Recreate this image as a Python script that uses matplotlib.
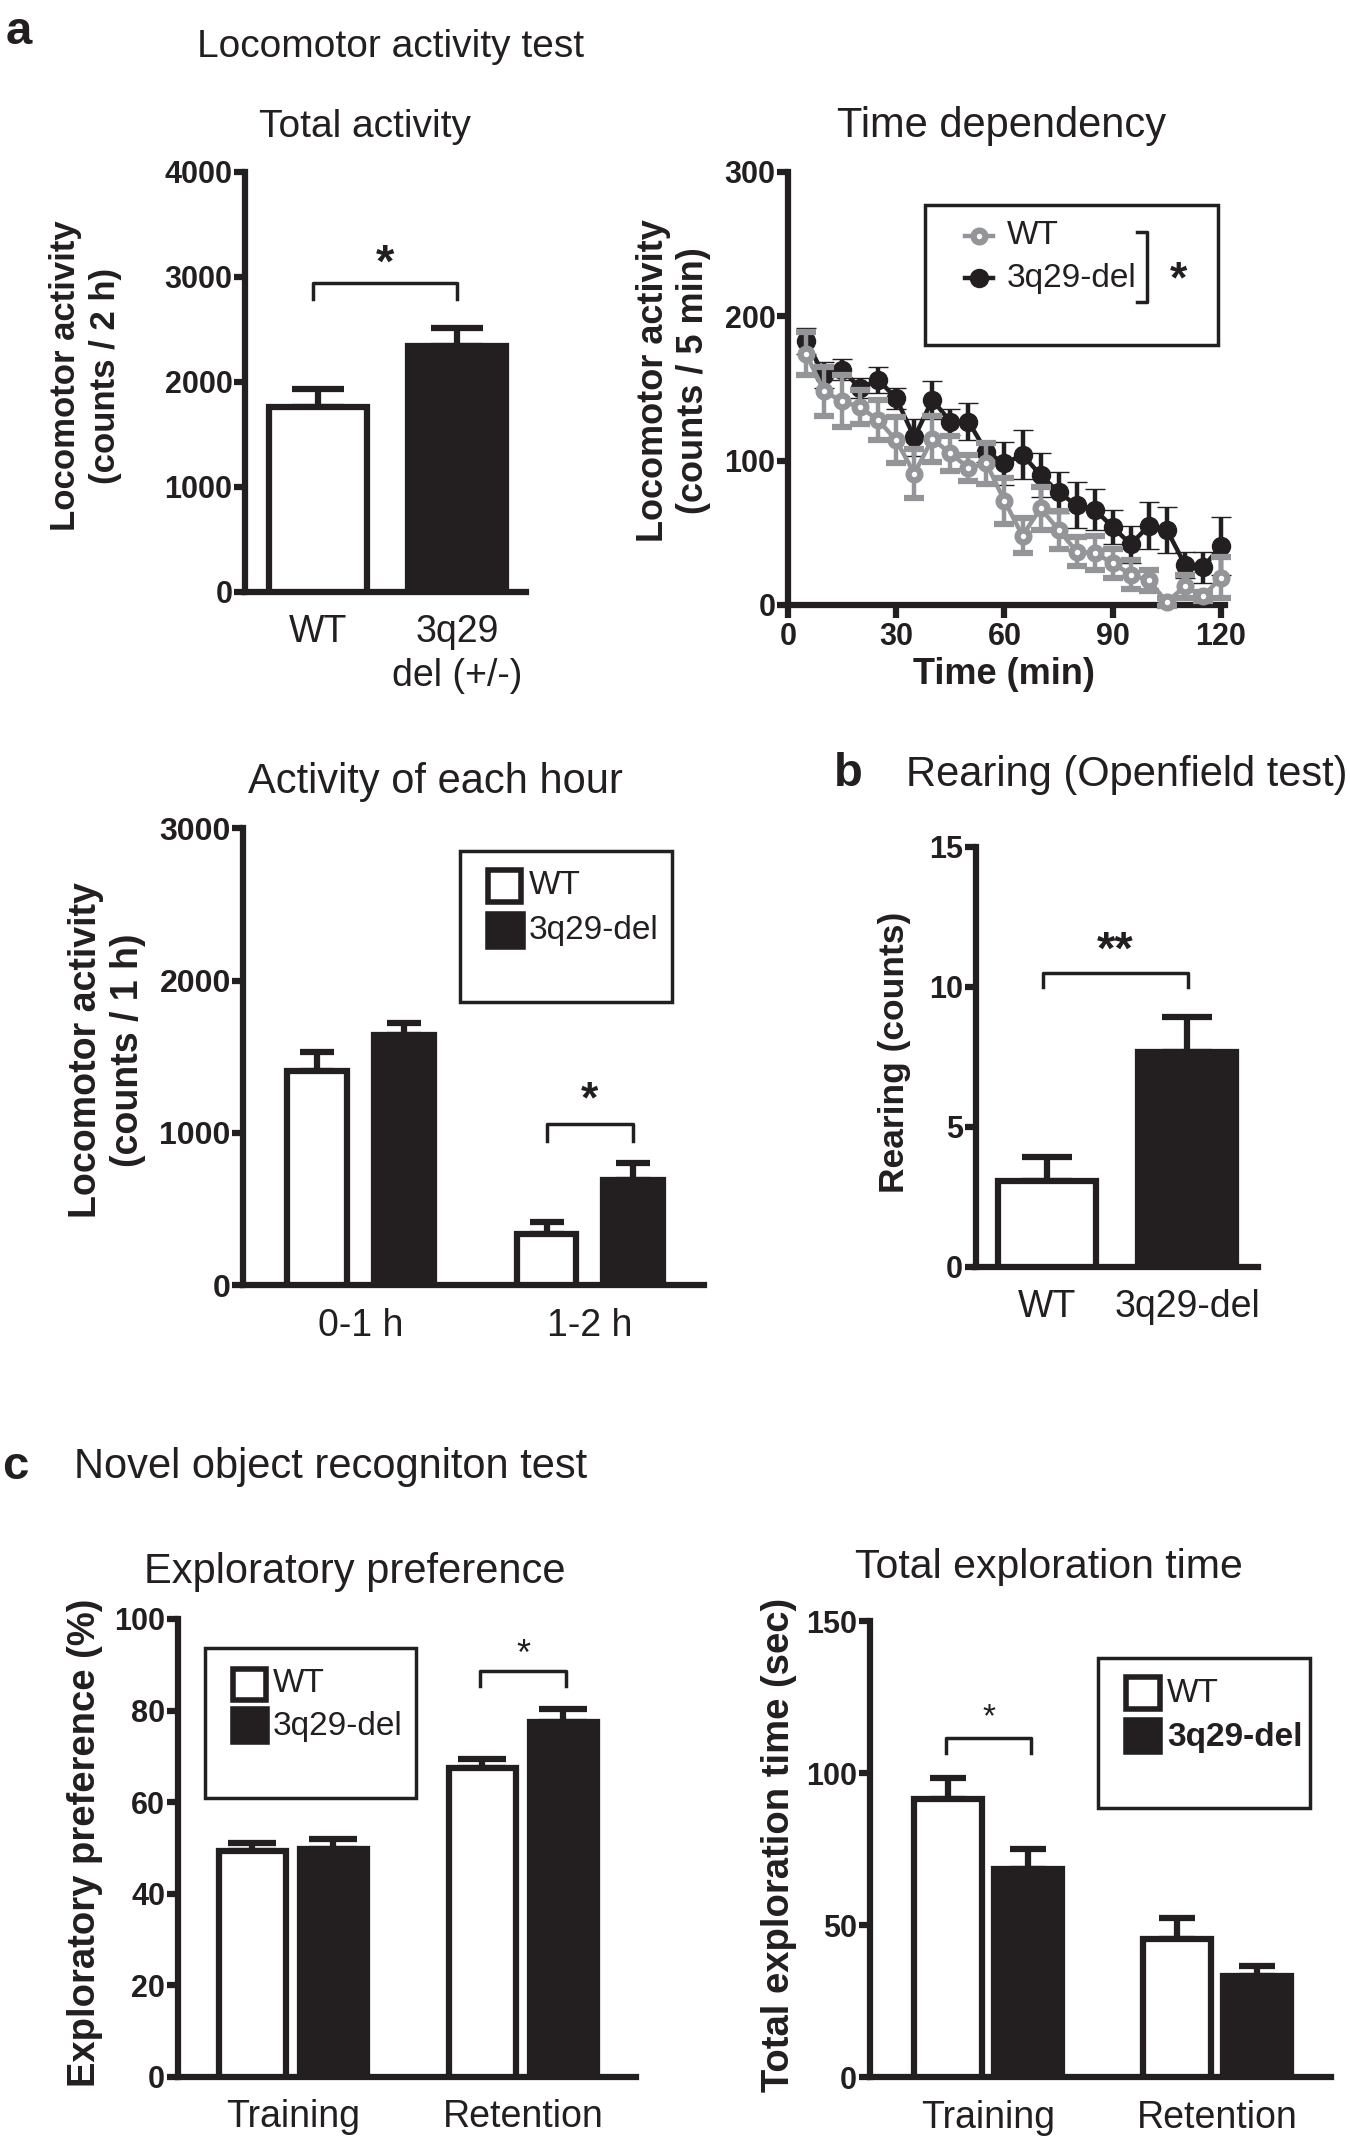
import matplotlib
matplotlib.use('Agg')
import matplotlib.pyplot as plt
import numpy as np
from matplotlib.patches import Rectangle
from matplotlib.lines import Line2D

plt.rcParams.update({
    'font.family': ['Liberation Sans', 'DejaVu Sans'],
    'axes.linewidth': 4.5,
    'xtick.major.width': 4.5,
    'ytick.major.width': 4.5,
})

INK = '#231f20'
GREY = '#939598'
LW = 4.5
W, H = 1350, 2142

# ---------------- data ----------------
# a) total activity (counts / 2 h)
total_groups = ['WT', '3q29\ndel (+/-)']
total_mean = [1757, 2340]
total_sem = [170, 170]

# a) time dependency (counts / 5 min)
time_min = [5, 10, 15, 20, 25, 30, 35, 40, 45, 50, 55, 60,
            65, 70, 75, 80, 85, 90, 95, 100, 105, 110, 115, 120]
wt_time = [174, 148, 141, 137, 128, 114, 91, 115, 105, 95, 98, 72,
           48, 67, 52, 37, 36, 29, 21, 17, 2, 13, 6, 19]
wt_time_sem = [15, 17, 18, 12, 14, 16, 17, 16, 12, 9, 14, 16,
               12, 15, 13, 10, 12, 10, 10, 7, 3, 8, 3, 14]
del_time = [183, 159, 163, 150, 156, 143, 116, 142, 127, 127, 106, 98,
            104, 90, 78, 69, 66, 54, 42, 55, 52, 28, 26, 41]
del_time_sem = [9, 9, 7, 7, 9, 7, 13, 13, 9, 13, 7, 15,
                17, 15, 14, 16, 14, 12, 13, 16, 16, 9, 11, 20]

# a) activity of each hour (counts / 1 h)
hour_labels = ['0-1 h', '1-2 h']
hour_wt = [1409, 340]
hour_wt_sem = [120, 73]
hour_del = [1644, 692]
hour_del_sem = [76, 114]

# b) rearing
rear_groups = ['WT', '3q29-del']
rear_mean = [3.06, 7.66]
rear_sem = [0.87, 1.25]

# c) novel object recognition
phases = ['Training', 'Retention']
pref_wt = [49.3, 67.4]
pref_wt_sem = [1.8, 2.1]
pref_del = [49.8, 77.5]
pref_del_sem = [2.2, 2.9]

expl_wt = [91.7, 45.4]
expl_wt_sem = [6.7, 7.0]
expl_del = [68.7, 33.4]
expl_del_sem = [6.3, 3.2]


fig = plt.figure(figsize=(W / 100, H / 100), dpi=100)


def fx(x):
    return x / W


def fy(y):
    return 1 - y / H


def add_ax(left, top, right, bottom):
    return fig.add_axes([fx(left), fy(bottom), (right - left) / W, (bottom - top) / H])


def ftext(x, y, s, size, weight='normal', rot=0, ha='center', **kw):
    fig.text(fx(x), fy(y), s, fontsize=size, fontweight=weight, rotation=rot,
             ha=ha, va='center', color=INK, **kw)


def style(ax, ymax, yticks, ysize=22):
    for s in ['top', 'right']:
        ax.spines[s].set_visible(False)
    for s in ['left', 'bottom']:
        ax.spines[s].set_color(INK)
    ax.set_ylim(0, ymax)
    ax.set_yticks(yticks)
    ax.tick_params(axis='y', direction='out', length=8, width=LW, pad=1,
                   labelsize=ysize, colors=INK)
    for t in ax.get_yticklabels():
        t.set_fontweight('bold')


def bars(ax, xs, means, sems, face, width, cap):
    ax.bar(xs, means, width, color=face, edgecolor=INK, linewidth=LW, zorder=3)
    ax.errorbar(xs, means, yerr=[np.zeros(len(sems)), sems], fmt='none',
                ecolor=INK, elinewidth=LW, capsize=cap, capthick=LW, zorder=2)


def bracket(ax, x0, x1, ytop, yleg, ystar, star, size, weight='bold'):
    ax.plot([x0, x0, x1, x1], [yleg, ytop, ytop, yleg], color=INK, lw=2.5,
            clip_on=False, zorder=4)
    ax.text((x0 + x1) / 2, ystar, star, ha='center', va='center',
            fontsize=size, fontweight=weight, color=INK)


def cat_labels(ax, xs, labels, pad=16):
    ax.set_xticks(xs, labels, fontsize=27, color=INK)
    ax.tick_params(axis='x', length=0, pad=pad)


def legend_box(x0, y0, x1, y1, items, size=24):
    fig.add_artist(Rectangle((fx(x0), fy(y1)), (x1 - x0) / W, (y1 - y0) / H,
                             transform=fig.transFigure, fill=False, ec=INK, lw=2.5))
    for (sx0, sy0, sx1, sy1, face, lab, tx, ty, wt) in items:
        fig.add_artist(Rectangle((fx(sx0), fy(sy1)), (sx1 - sx0) / W, (sy1 - sy0) / H,
                                 transform=fig.transFigure, fc=face, ec=INK, lw=4))
        ftext(tx, ty, lab, size, weight=wt, ha='left')


# ---------------- panel a: total activity ----------------
ftext(6, 32, 'a', 34, 'bold', ha='left')
ftext(391, 47, 'Locomotor activity test', 28)
ftext(365, 127, 'Total activity', 28)
ax = add_ax(245, 171.9, 525.6, 591.5)
style(ax, 4000, [0, 1000, 2000, 3000, 4000])
ax.set_xlim(-0.525, 1.494)
bars(ax, [0], total_mean[:1], total_sem[:1], 'white', 0.7, 18.5)
bars(ax, [1], total_mean[1:], total_sem[1:], INK, 0.7, 18.5)
cat_labels(ax, [0, 1], total_groups)
ax.get_xticklabels()[1].set_linespacing(1.3)
bracket(ax, -0.035, 1.0, 2937, 2789, 3116, '*', 34)
ftext(85.6, 376, 'Locomotor activity\n(counts / 2 h)', 25, 'bold', rot=90,
      multialignment='center', linespacing=1.25)

# ---------------- panel a: time dependency ----------------
ftext(1002, 126, 'Time dependency', 30)
ax = add_ax(788, 171.7, 1224.6, 605)
style(ax, 300, [0, 100, 200, 300])
ax.set_xlim(0, 121)
ax.set_xticks([0, 30, 60, 90, 120])
ax.tick_params(axis='x', direction='out', length=9.5, width=LW, pad=3,
               labelsize=22, colors=INK)
for t in ax.get_xticklabels():
    t.set_fontweight('bold')
ax.errorbar(time_min, del_time, yerr=del_time_sem, color=INK, lw=3.2,
            marker='o', ms=13, mfc=INK, mec=INK, mew=1, elinewidth=3.2,
            capsize=7, capthick=3.2, zorder=3, clip_on=False)
ax.errorbar(time_min, wt_time, yerr=wt_time_sem, color=GREY, lw=3.2,
            marker='o', ms=8.5, mfc='white', mec=GREY, mew=4.5, elinewidth=3.2,
            capsize=7, capthick=3.2, zorder=4, clip_on=False)
ftext(1004, 675, 'Time (min)', 26, 'bold')
ftext(673.6, 381, 'Locomotor activity\n(counts / 5 min)', 26, 'bold', rot=90,
      multialignment='center', linespacing=1.2)
# legend
fig.add_artist(Rectangle((fx(925), fy(345)), (1218.3 - 925) / W, (345 - 205) / H,
                         transform=fig.transFigure, fill=False, ec=INK, lw=2.5))
for yy, col, face, ms, mew, lab in [(236, GREY, 'white', 8.5, 4.5, 'WT'),
                                    (278, INK, INK, 13, 1, '3q29-del')]:
    fig.add_artist(Line2D([fx(965), fx(993)], [fy(yy), fy(yy)], transform=fig.transFigure,
                          color=col, lw=3.2))
    fig.add_artist(Line2D([fx(979)], [fy(yy)], transform=fig.transFigure, marker='o',
                          ms=ms, mfc=face, mec=col, mew=mew, color=col))
    ftext(1006.7, yy, lab, 24, ha='left')
fig.add_artist(Line2D([fx(1137), fx(1147), fx(1147), fx(1137)],
                      [fy(232), fy(232), fy(302), fy(302)],
                      transform=fig.transFigure, color=INK, lw=2.5))
ftext(1178, 281, '*', 32, 'bold')

# ---------------- panel a: activity of each hour ----------------
ftext(435, 782, 'Activity of each hour', 30)
ax = add_ax(243.3, 828.4, 703.7, 1285.3)
style(ax, 3000, [0, 1000, 2000, 3000], ysize=23)
ax.set_xlim(-0.511, 1.496)
x = np.arange(len(hour_labels))
bars(ax, x - 0.189, hour_wt, hour_wt_sem, 'white', 0.26, 12)
bars(ax, x + 0.189, hour_del, hour_del_sem, INK, 0.26, 12)
cat_labels(ax, x, hour_labels)
bracket(ax, 1 - 0.189, 1 + 0.189, 1056, 947, 1213, '*', 32)
ftext(107, 1050, 'Locomotor activity\n(counts / 1 h)', 27, 'bold', rot=90,
      multialignment='center', linespacing=1.25)
legend_box(460, 850.6, 672, 1002.3, [
    (488, 870, 521, 902.4, 'white', 'WT', 529, 885.8, 'normal'),
    (488, 913.5, 523, 946.8, INK, '3q29-del', 529, 930.2, 'normal'),
])

# ---------------- panel b: rearing ----------------
ftext(834, 774, 'b', 34, 'bold', ha='left')
ftext(906, 775, 'Rearing (Openfield test)', 30, ha='left')
ax = add_ax(975.5, 847, 1257.8, 1266.8)
style(ax, 15, [0, 5, 10, 15])
ax.set_xlim(-0.51, 1.506)
bars(ax, [0], rear_mean[:1], rear_sem[:1], 'white', 0.7, 18)
bars(ax, [1], rear_mean[1:], rear_sem[1:], INK, 0.7, 18)
cat_labels(ax, [0, 1], rear_groups)
bracket(ax, -0.03, 1.01, 10.5, 9.98, 11.26, '**', 34)
ftext(894.4, 1052, 'Rearing (counts)', 25.5, 'bold', rot=90)

# ---------------- panel c: exploratory preference ----------------
ftext(2, 1467, 'c', 34, 'bold', ha='left')
ftext(73.7, 1467, 'Novel object recogniton test', 30, ha='left')
ftext(355, 1572, 'Exploratory preference', 30)
ax = add_ax(177.7, 1619, 636, 2076.6)
style(ax, 100, [0, 20, 40, 60, 80, 100])
ax.set_xlim(-0.501, 1.492)
x = np.arange(len(phases))
bars(ax, x - 0.176, pref_wt, pref_wt_sem, 'white', 0.29, 17.5)
bars(ax, x + 0.176, pref_del, pref_del_sem, INK, 0.29, 17.5)
cat_labels(ax, x, phases)
bracket(ax, 0.814, 1.188, 88.7, 85.4, 92.0, '*', 26, 'normal')
ftext(84.8, 1843, 'Exploratory preference (%)', 27.5, 'bold', rot=90)
legend_box(204.5, 1648, 416, 1798, [
    (233, 1669, 265.6, 1699.7, 'white', 'WT', 273, 1684, 'normal'),
    (233, 1708.6, 266.5, 1742, INK, '3q29-del', 273, 1726.5, 'normal'),
])

# ---------------- panel c: total exploration time ----------------
ftext(1049, 1567, 'Total exploration time', 29.5)
ax = add_ax(869.6, 1621.4, 1331.4, 2077.4)
style(ax, 150, [0, 50, 100, 150])
ax.set_xlim(-0.517, 1.498)
bars(ax, x - 0.1745, expl_wt, expl_wt_sem, 'white', 0.297, 13)
bars(ax, x + 0.1745, expl_del, expl_del_sem, INK, 0.297, 13)
cat_labels(ax, x, phases)
bracket(ax, -0.183, 0.188, 111.7, 106.7, 118.3, '*', 24, 'normal')
ftext(779, 1845, 'Total exploration time (sec)', 27.5, 'bold', rot=90)
legend_box(1098, 1658, 1310, 1807.6, [
    (1126, 1677, 1160, 1709, 'white', 'WT', 1167, 1693.6, 'normal'),
    (1126, 1719.7, 1160, 1752, INK, '3q29-del', 1167, 1737.7, 'bold'),
])

fig.savefig('out.png', dpi=100)
